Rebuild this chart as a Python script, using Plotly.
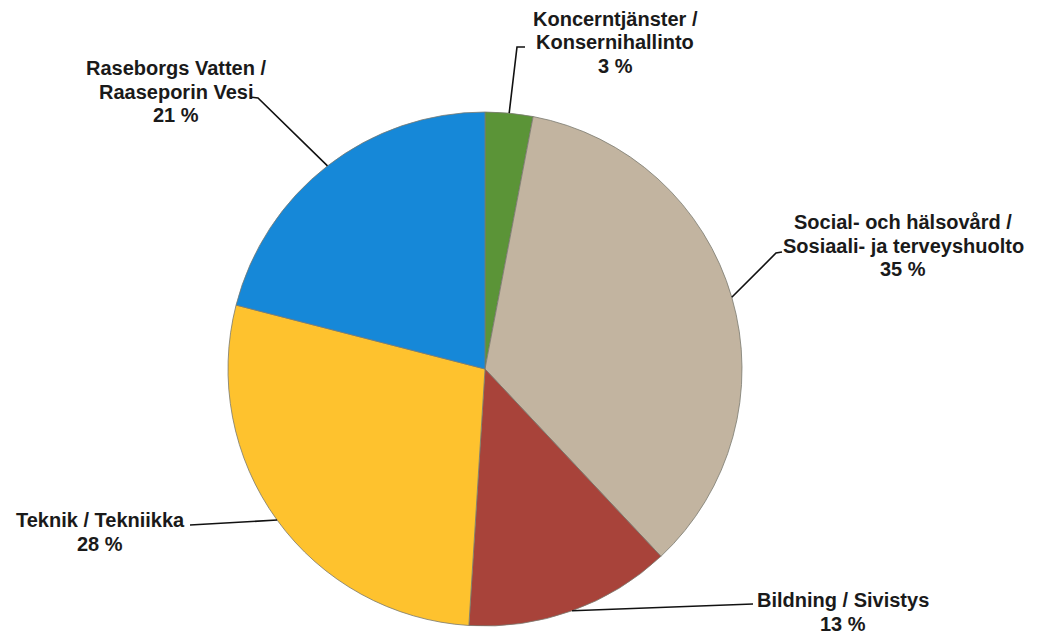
import math
import plotly.graph_objects as go

# data
labels_sv = ["Koncerntjänster", "Social- och hälsovård", "Bildning", "Teknik", "Raseborgs Vatten"]
labels_fi = ["Konsernihallinto", "Sosiaali- ja terveyshuolto", "Sivistys", "Tekniikka", "Raaseporin Vesi"]
shares = [3, 35, 13, 28, 21]
colors = ["#5B9437", "#C2B4A0", "#A8433A", "#FEC22E", "#1688D8"]

W, H = 1037, 636
CX, CY, R = 485, 369, 257  # pie center / radius in pixels
LINE_GAP = 23.5            # spacing between label lines


def px(x):
    return x / W


def py(y):
    return 1 - y / H


# label lines, first line centre, elbow point, line end (pixels)
label_layout = [
    dict(lines=["Koncerntjänster /", "Konsernihallinto"], pos=(615, 19), elbow=(517, 47), end=(525, 47)),
    dict(lines=["Social- och hälsovård /", "Sosiaali- ja terveyshuolto"], pos=(903, 222), elbow=(776, 253), end=(782, 252)),
    dict(lines=["Bildning / Sivistys"], pos=(843, 600), elbow=None, end=(753, 604)),
    dict(lines=["Teknik / Tekniikka"], pos=(100, 520), elbow=None, end=(190, 525)),
    dict(lines=["Raseborgs Vatten /", "Raaseporin Vesi"], pos=(176, 68), elbow=(258, 98), end=(250, 97)),
]

fig = go.Figure()
fig.add_trace(go.Pie(
    labels=[f"{a} / {b}" for a, b in zip(labels_sv, labels_fi)],
    values=shares,
    sort=False,
    direction="clockwise",
    rotation=0,
    textinfo="none",
    marker=dict(colors=colors, line=dict(color="#7a7a70", width=0.8)),
    domain=dict(x=[px(CX - R), px(CX + R)], y=[py(CY + R), py(CY - R)]),
    showlegend=False,
))

# leader lines from the slice mid-angle on the rim
total = sum(shares)
cum = 0
shapes = []
annotations = []
font = dict(family="Arial, Liberation Sans, sans-serif", size=20, color="#1a1a1a", weight="bold")
for v, lay in zip(shares, label_layout):
    mid = (cum + v / 2) / total * 2 * math.pi
    cum += v
    ex = CX + R * math.sin(mid)
    ey = CY - R * math.cos(mid)
    pts = [(ex, ey)]
    if lay["elbow"]:
        pts.append(lay["elbow"])
    pts.append(lay["end"])
    path = "M " + " L ".join(f"{px(x)},{py(y)}" for x, y in pts)
    shapes.append(dict(type="path", path=path, xref="paper", yref="paper",
                       line=dict(color="#111111", width=1.6)))
    texts = lay["lines"] + [f"{v} %"]
    for i, t in enumerate(texts):
        annotations.append(dict(
            text=t, x=px(lay["pos"][0]), y=py(lay["pos"][1] + i * LINE_GAP),
            xref="paper", yref="paper", xanchor="center", yanchor="middle",
            showarrow=False, font=font,
        ))

fig.update_layout(
    width=W, height=H,
    margin=dict(l=0, r=0, t=0, b=0),
    paper_bgcolor="white",
    plot_bgcolor="white",
    shapes=shapes,
    annotations=annotations,
)

# drop the default page margin so the figure fills the window
fig.write_html("out.html", config={"displayModeBar": False},
               post_script="document.body.style.margin='0';")
